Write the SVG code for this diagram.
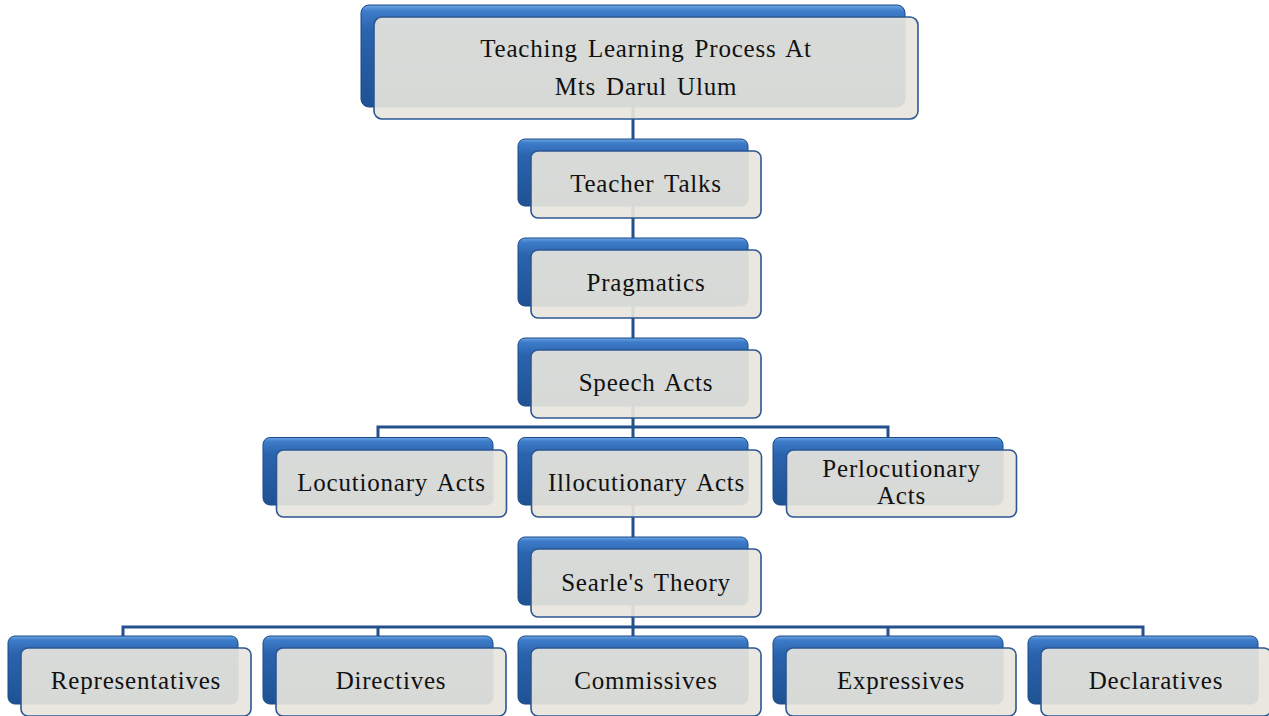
<svg xmlns="http://www.w3.org/2000/svg" width="1269" height="716" viewBox="0 0 1269 716">
<style>
.bk{fill:url(#blueG);stroke:#1B4A86;stroke-width:1}
.fr{fill:#E7E5DC;fill-opacity:0.92;stroke:#2C5793;stroke-width:1.6}
.tx{font-family:"Liberation Serif","Times New Roman",serif;font-size:25px;fill:#111;text-anchor:middle;letter-spacing:0.8px;word-spacing:3px}
.cn{fill:none;stroke:#24518C;stroke-width:3}
</style>
<defs>
<linearGradient id="blueG" x1="0" y1="0" x2="0" y2="1">
<stop offset="0" stop-color="#6FA6E6"/>
<stop offset="0.06" stop-color="#3D7CC9"/>
<stop offset="0.25" stop-color="#2B63AE"/>
<stop offset="1" stop-color="#1E5293"/>
</linearGradient>
</defs>
<rect width="1269" height="716" fill="#FFFFFF"/>
<g id="connectors">
<path class="cn" d="M633 107 V636"/>
<path class="cn" d="M378 437 V427 H888 V437"/>
<path class="cn" d="M123 636 V627 H1143 V636 M378 627 V636 M888 627 V636"/>
</g>
<g id="n-top">
<rect class="bk" x="361" y="5" width="544" height="102" rx="8"/>
<rect class="fr" x="374" y="17" width="544" height="102" rx="8"/>
<text class="tx" x="646" y="57">Teaching Learning Process At</text>
<text class="tx" x="646" y="95">Mts Darul Ulum</text>
</g>
<g id="n-teacher">
<rect class="bk" x="518" y="139" width="230" height="67" rx="7"/>
<rect class="fr" x="531" y="151" width="230" height="67" rx="7"/>
<text class="tx" x="646" y="192">Teacher Talks</text>
</g>
<g id="n-pragmatics">
<rect class="bk" x="518" y="238" width="230" height="68" rx="7"/>
<rect class="fr" x="531" y="250" width="230" height="68" rx="7"/>
<text class="tx" x="646" y="291">Pragmatics</text>
</g>
<g id="n-speech">
<rect class="bk" x="518" y="338" width="230" height="68" rx="7"/>
<rect class="fr" x="531" y="350" width="230" height="68" rx="7"/>
<text class="tx" x="646" y="391">Speech Acts</text>
</g>
<g id="n-locutionary">
<rect class="bk" x="263" y="437.5" width="230" height="67.5" rx="7"/>
<rect class="fr" x="276.5" y="450" width="230" height="67" rx="7"/>
<text class="tx" x="391.5" y="491">Locutionary Acts</text>
</g>
<g id="n-illocutionary">
<rect class="bk" x="518" y="437.5" width="230" height="67.5" rx="7"/>
<rect class="fr" x="531.5" y="450" width="230" height="67" rx="7"/>
<text class="tx" x="646.5" y="491">Illocutionary Acts</text>
</g>
<g id="n-perlocutionary">
<rect class="bk" x="773" y="437.5" width="230" height="67.5" rx="7"/>
<rect class="fr" x="786.5" y="450" width="230" height="67" rx="7"/>
<text class="tx" x="901.5" y="477">Perlocutionary</text>
<text class="tx" x="901.5" y="504">Acts</text>
</g>
<g id="n-searle">
<rect class="bk" x="518" y="537" width="230" height="68" rx="7"/>
<rect class="fr" x="531" y="549" width="230" height="68" rx="7"/>
<text class="tx" x="646" y="591">Searle's Theory</text>
</g>
<g id="n-representatives">
<rect class="bk" x="8" y="636" width="230" height="68" rx="7"/>
<rect class="fr" x="21" y="648" width="230" height="68" rx="7"/>
<text class="tx" x="136" y="689">Representatives</text>
</g>
<g id="n-directives">
<rect class="bk" x="263" y="636" width="230" height="68" rx="7"/>
<rect class="fr" x="276" y="648" width="230" height="68" rx="7"/>
<text class="tx" x="391" y="689">Directives</text>
</g>
<g id="n-commissives">
<rect class="bk" x="518" y="636" width="230" height="68" rx="7"/>
<rect class="fr" x="531" y="648" width="230" height="68" rx="7"/>
<text class="tx" x="646" y="689">Commissives</text>
</g>
<g id="n-expressives">
<rect class="bk" x="773" y="636" width="230" height="68" rx="7"/>
<rect class="fr" x="786" y="648" width="230" height="68" rx="7"/>
<text class="tx" x="901" y="689">Expressives</text>
</g>
<g id="n-declaratives">
<rect class="bk" x="1028" y="636" width="230" height="68" rx="7"/>
<rect class="fr" x="1041" y="648" width="230" height="68" rx="7"/>
<text class="tx" x="1156" y="689">Declaratives</text>
</g>
</svg>
